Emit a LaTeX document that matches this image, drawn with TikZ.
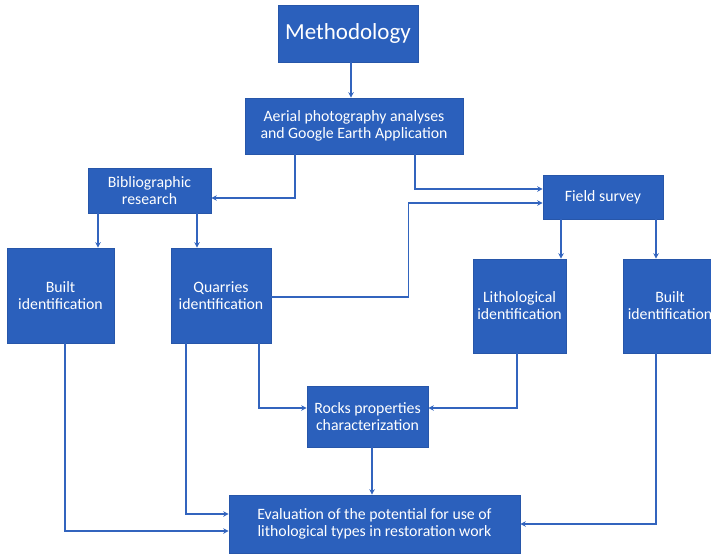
\documentclass[tikz,border=0pt]{standalone}
\usepackage{fontspec}
\setmainfont{Carlito}
\usetikzlibrary{arrows.meta,calc}
\definecolor{boxblue}{RGB}{43,96,188}
\definecolor{lineblue}{RGB}{50,100,190}
\begin{document}
\begin{tikzpicture}[x=1pt,y=-1pt,
  box/.style={fill=boxblue,draw=boxblue!90!black,line width=0.6pt,text=white,align=center,
    inner sep=1pt,font=\fontsize{15.8}{17}\selectfont},
  arr/.style={draw=lineblue,line width=1.5pt,-{Stealth[length=5.5pt,width=5.5pt]}},
  ln/.style={draw=lineblue,line width=1.5pt}]
\useasboundingbox (0,0) rectangle (711,556);
\node[box,minimum width=140,minimum height=57,font=\fontsize{23}{27}\selectfont] (meth) at (348,33.5) {Methodology};
\node[box,minimum width=218,minimum height=56] (aerial) at (354,126) {Aerial photography analyses\\and Google Earth Application};
\node[box,minimum width=123,minimum height=45] (bib) at (149.5,190.5) {Bibliographic\\research};
\node[box,minimum width=120,minimum height=44] (field) at (603,197) {Field survey};
\node[box,minimum width=107,minimum height=95] (builtL) at (60.5,295.5) {Built\\identification};
\node[box,minimum width=100,minimum height=95] (quar) at (221,295.5) {Quarries\\identification};
\node[box,minimum width=93,minimum height=94] (litho) at (519.5,306) {Lithological\\identification};
\node[box,minimum width=94,minimum height=94] (builtR) at (670,306) {Built\\identification};
\node[box,minimum width=121,minimum height=61] (rocks) at (367.5,416.5) {Rocks properties\\characterization};
\node[box,minimum width=291,minimum height=58] (eval) at (374.5,524) {Evaluation of the potential for use of\\lithological types in restoration work};

\draw[arr] ([xshift=3]meth.south) -- ([xshift=3]meth.south |- aerial.north);
\draw[arr] ([xshift=-59]aerial.south) |- ([yshift=-7.5]bib.east);
\draw[arr] ([xshift=61]aerial.south) |- ([yshift=8]field.west);
\draw[arr] ([xshift=-51.5]bib.south) -- ([xshift=-51.5]bib.south |- builtL.north);
\draw[arr] ([xshift=47.5]bib.south) -- ([xshift=47.5]bib.south |- quar.north);
\draw[arr] ([yshift=-1.5]quar.east) -| ([xshift=-134,yshift=-6]field.west) -- ([yshift=-6]field.west);
\draw[arr] ([xshift=-42]field.south) -- ([xshift=-42]field.south |- litho.north);
\draw[arr] ([xshift=53]field.south) -- ([xshift=53]field.south |- builtR.north);
\draw[arr] ([xshift=38]quar.south) |- ([yshift=8.5]rocks.west);
\draw[arr] ([xshift=-2.5]litho.south) |- ([yshift=8.5]rocks.east);
\draw[arr] ([xshift=4.5]rocks.south) -- ([xshift=4.5]rocks.south |- eval.north);
\draw[arr] ([xshift=-35]quar.south) |- ([yshift=10]eval.west);
\draw[arr] ([xshift=4.5]builtL.south) |- ([yshift=-7]eval.west);
\draw[arr] ([xshift=-14]builtR.south) |- (eval.east);
\end{tikzpicture}
\end{document}
